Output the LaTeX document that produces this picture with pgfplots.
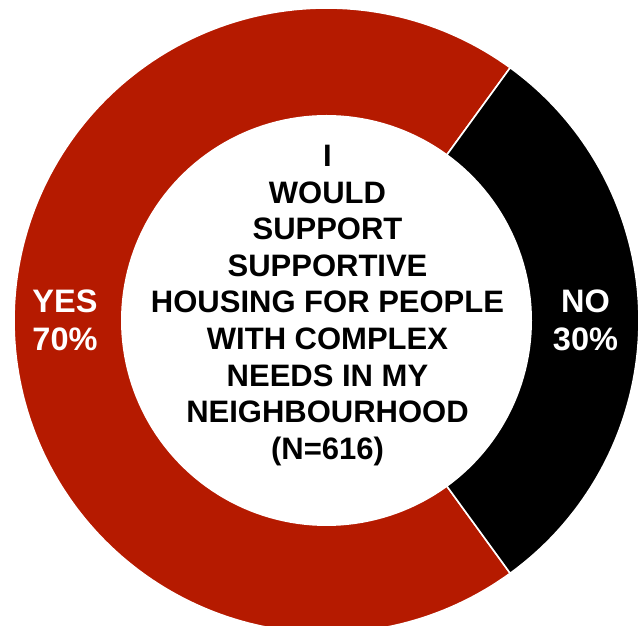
\documentclass[border=0pt]{standalone}
\usepackage{fontspec}
\setmainfont{Liberation Sans}
\usepackage{pgfplots}
\usepackage{pgfplotstable}
\pgfplotsset{compat=1.18}
\definecolor{yesred}{RGB}{181,26,0}
\definecolor{nob}{RGB}{0,0,0}

\pgfplotstableread{
label value
YES 70
NO 30
}\donutdata

\begin{document}
\begin{tikzpicture}
\pgfplotstablegetelem{0}{value}\of\donutdata \let\yesval\pgfplotsretval
\pgfplotstablegetelem{1}{value}\of\donutdata \let\noval\pgfplotsretval
\pgfmathsetmacro\nohalf{\noval*3.6/2}
\pgfmathsetmacro\noend{\nohalf}
\pgfmathsetmacro\nostart{-\nohalf}
\pgfmathsetmacro\yesstart{\nohalf}
\pgfmathsetmacro\yesend{\nohalf+\yesval*3.6}
\def\cx{326.5}
\def\cy{305.5}
\def\Ro{312.5}
\def\Ri{205.5}
\begin{axis}[
  width=640pt, height=626pt, scale only axis,
  xmin=0, xmax=640, ymin=0, ymax=626,
  hide axis, clip=true,
]
\coordinate (sw) at (rel axis cs:0,0);
\coordinate (ne) at (rel axis cs:1,1);
\addplot[fill=yesred, draw=white, line width=1.6pt, domain=\yesstart:\yesend, samples=181, variable=\t]
  ({\cx+\Ro*cos(t)}, {\cy+\Ro*sin(t)}) -- (axis cs:\cx,\cy) -- cycle;
\addplot[fill=nob, draw=white, line width=1.6pt, domain=\nostart:\noend, samples=91, variable=\t]
  ({\cx+\Ro*cos(t)}, {\cy+\Ro*sin(t)}) -- (axis cs:\cx,\cy) -- cycle;
\addplot[fill=white, draw=none, domain=0:360, samples=181, variable=\t]
  ({\cx+\Ri*cos(t)}, {\cy+\Ri*sin(t)}) -- cycle;
\node[text=white, align=center, inner sep=0pt, font=\fontsize{32.5}{38}\selectfont\bfseries]
  at (axis cs:65,305.5) {YES\\70\%};
\node[text=white, align=center, inner sep=0pt, font=\fontsize{32.5}{38}\selectfont\bfseries]
  at (axis cs:585.5,305.5) {NO\\30\%};
\node[text=black, align=center, inner sep=0pt, font=\fontsize{31}{36.6}\selectfont\bfseries]
  at (axis cs:327.5,320.5) {I\\WOULD\\SUPPORT\\SUPPORTIVE\\HOUSING FOR PEOPLE\\WITH COMPLEX\\NEEDS IN MY\\NEIGHBOURHOOD\\(N=616)};
\end{axis}
\pgfresetboundingbox
\useasboundingbox (sw) rectangle (ne);
\end{tikzpicture}
\end{document}
